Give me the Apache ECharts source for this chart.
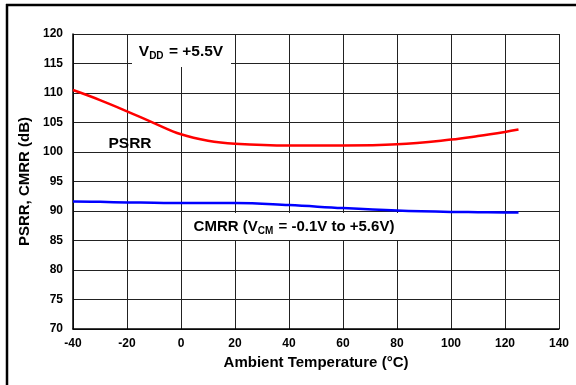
<!DOCTYPE html>
<html>
<head>
<meta charset="utf-8">
<script src="https://cdn.jsdelivr.net/npm/echarts@6/dist/echarts.min.js"></script>
<style>html,body{margin:0;padding:0;background:#fff}#c{width:576px;height:385px}</style>
</head>
<body>
<div id="c"></div>
<script>
var temps = [-40, -30, -20, -10, 0, 10, 20, 40, 60, 80, 100, 110, 120, 125];
var psrr  = [110.5, 108.8, 106.9, 104.9, 103.0, 101.9, 101.4, 101.1, 101.1, 101.3, 102.1, 102.7, 103.4, 103.8];
var cmrr  = [91.6, 91.55, 91.45, 91.4, 91.35, 91.35, 91.35, 91.0, 90.5, 90.1, 89.85, 89.8, 89.75, 89.75];
var xTicks = {min: -40, max: 140, interval: 20};
var yTicks = {min: 70, max: 120, interval: 5};

var FONT = '"Liberation Sans", Arial, sans-serif';
function pairs(ys){ return temps.map(function(t,i){ return [t, ys[i]]; }); }

var chart = echarts.init(document.getElementById('c'), null, {renderer: 'canvas'});
chart.setOption({
  animation: false,
  backgroundColor: '#fff',
  grid: {left: 73, top: 34, width: 486, height: 295},
  xAxis: {
    type: 'value', min: xTicks.min, max: xTicks.max, interval: xTicks.interval,
    name: 'Ambient Temperature (°C)', nameLocation: 'middle', nameGap: 23,
    nameTextStyle: {fontFamily: FONT, fontWeight: 'bold', fontSize: 15, color: '#000'},
    axisLine: {show: true, onZero: false, lineStyle: {color: '#000', width: 1.5}},
    axisTick: {show: false},
    axisLabel: {fontFamily: FONT, fontWeight: 'bold', fontSize: 12, color: '#000', margin: 9},
    splitLine: {show: true, lineStyle: {color: '#222', width: 1}}
  },
  yAxis: {
    type: 'value', min: yTicks.min, max: yTicks.max, interval: yTicks.interval,
    name: 'PSRR, CMRR (dB)', nameLocation: 'middle', nameGap: 37,
    nameTextStyle: {fontFamily: FONT, fontWeight: 'bold', fontSize: 15, color: '#000'},
    axisLine: {show: true, onZero: false, lineStyle: {color: '#000', width: 1.5}},
    axisTick: {show: false},
    axisLabel: {fontFamily: FONT, fontWeight: 'bold', fontSize: 12, color: '#000', margin: 10},
    splitLine: {show: true, lineStyle: {color: '#222', width: 1}}
  },
  series: [
    {type: 'line', data: pairs(psrr), smooth: 0.4, showSymbol: false, lineStyle: {color: '#ff0000', width: 2.5}, z: 3},
    {type: 'line', data: pairs(cmrr), smooth: 0.4, showSymbol: false, lineStyle: {color: '#0000ff', width: 2.5}, z: 3}
  ],
  graphic: [
    {type: 'line', shape: {x1: 6, y1: 5, x2: 576, y2: 5}, style: {stroke: '#000', lineWidth: 2.5}},
    {type: 'line', shape: {x1: 7, y1: 4, x2: 7, y2: 385}, style: {stroke: '#000', lineWidth: 2.5}},
    {type: 'rect', shape: {x: 132, y: 35, width: 99, height: 32}, style: {fill: '#fff'}, z: 10},
    {type: 'text', x: 181, y: 52, z: 11, style: {
      text: '{m|V}{s|DD}{m| = +5.5V}', align: 'center', verticalAlign: 'middle',
      rich: {
        m: {fontFamily: FONT, fontWeight: 'bold', fontSize: 15.5, fill: '#000'},
        s: {fontFamily: FONT, fontWeight: 'bold', fontSize: 10, fill: '#000', verticalAlign: 'bottom', padding: [8, 1, 0, 0]}
      }}},
    {type: 'text', x: 130, y: 144, z: 11, style: {
      text: 'PSRR', align: 'center', verticalAlign: 'middle',
      fontFamily: FONT, fontWeight: 'bold', fontSize: 15.5, fill: '#000'}},
    {type: 'rect', shape: {x: 186, y: 213, width: 218, height: 27}, style: {fill: '#fff'}, z: 10},
    {type: 'text', x: 294, y: 227, z: 11, style: {
      text: '{m|CMRR (V}{s|CM}{m| = -0.1V to +5.6V)}', align: 'center', verticalAlign: 'middle',
      rich: {
        m: {fontFamily: FONT, fontWeight: 'bold', fontSize: 15, fill: '#000'},
        s: {fontFamily: FONT, fontWeight: 'bold', fontSize: 10, fill: '#000', verticalAlign: 'bottom', padding: [8, 1, 0, 0]}
      }}}
  ]
});
</script>
</body>
</html>
